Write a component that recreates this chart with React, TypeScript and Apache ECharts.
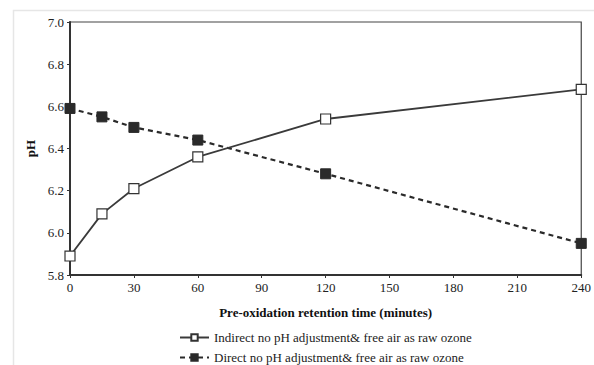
import React, { useEffect, useRef } from "react";
import * as echarts from "echarts";

const times = [0, 15, 30, 60, 120, 240];
const indirectPH = [5.89, 6.09, 6.21, 6.36, 6.54, 6.68];
const directPH = [6.59, 6.55, 6.5, 6.44, 6.28, 5.95];
const seriesNames = [
  "Indirect no pH adjustment& free air as raw ozone",
  "Direct no pH adjustment& free air as raw ozone",
];
const xTitle = "Pre-oxidation retention time (minutes)";
const yTitle = "pH";

const FONT = "Liberation Serif, Times New Roman, serif";

export default function App() {
  const ref = useRef<HTMLDivElement>(null);
  useEffect(() => {
    if (!ref.current) return;
    const chart = echarts.init(ref.current, undefined, { renderer: "svg" });
    const legendBase = {
      left: 174,
      itemWidth: 29,
      itemHeight: 8,
      itemGap: 4,
      textStyle: { fontFamily: FONT, fontSize: 13, color: "#222" },
    };
    chart.setOption({
      animation: false,
      backgroundColor: "#fff",
      textStyle: { fontFamily: FONT },
      graphic: [
        {
          type: "rect",
          shape: { x: 13.5, y: 10.5, width: 700, height: 500 },
          style: { fill: "none", stroke: "#e6e6e6", lineWidth: 1.5 },
          silent: true,
          z: -1,
        },
      ],
      grid: {
        left: 70,
        right: 9,
        top: 22,
        bottom: 90,
        show: true,
        borderColor: "#444",
        borderWidth: 1.2,
      },
      legend: [
        { ...legendBase, top: 326, data: [seriesNames[0]] },
        { ...legendBase, top: 346, data: [seriesNames[1]] },
      ],
      xAxis: {
        type: "value",
        min: 0,
        max: 240,
        interval: 30,
        name: xTitle,
        nameLocation: "middle",
        nameGap: 31,
        nameTextStyle: { fontFamily: FONT, fontSize: 13, fontWeight: "bold", color: "#111" },
        axisLine: { show: true, lineStyle: { color: "#333", width: 2 } },
        axisTick: { show: true, inside: false, length: 3, lineStyle: { color: "#333" } },
        axisLabel: { fontFamily: FONT, fontSize: 13, color: "#222", margin: 6 },
        splitLine: { show: false },
      },
      yAxis: {
        type: "value",
        min: 5.8,
        max: 7.0,
        interval: 0.2,
        name: yTitle,
        nameLocation: "middle",
        nameGap: 32,
        nameRotate: 90,
        nameTextStyle: { fontFamily: FONT, fontSize: 13, fontWeight: "bold", color: "#111" },
        axisLine: { show: true, lineStyle: { color: "#333", width: 2 } },
        axisTick: { show: true, inside: false, length: 3, lineStyle: { color: "#333" } },
        axisLabel: {
          fontFamily: FONT,
          fontSize: 13,
          color: "#222",
          margin: 6,
          formatter: (v: number) => v.toFixed(1),
        },
        splitLine: { show: false },
      },
      series: [
        {
          name: seriesNames[0],
          type: "line",
          data: times.map((t, i) => [t, indirectPH[i]]),
          symbol: "rect",
          symbolSize: 10,
          lineStyle: { color: "#3a3a3a", width: 1.8, type: "solid" },
          itemStyle: { color: "#fff", borderColor: "#333", borderWidth: 1.2 },
          z: 3,
        },
        {
          name: seriesNames[1],
          type: "line",
          data: times.map((t, i) => [t, directPH[i]]),
          symbol: "rect",
          symbolSize: 10,
          lineStyle: { color: "#2a2a2a", width: 2.2, type: [5, 4] },
          itemStyle: { color: "#2a2a2a", borderColor: "#2a2a2a", borderWidth: 1 },
          z: 2,
        },
      ],
    });
    return () => chart.dispose();
  }, []);
  return <div ref={ref} style={{ width: 594, height: 365, position: "absolute", left: 0, top: 0 }} />;
}
